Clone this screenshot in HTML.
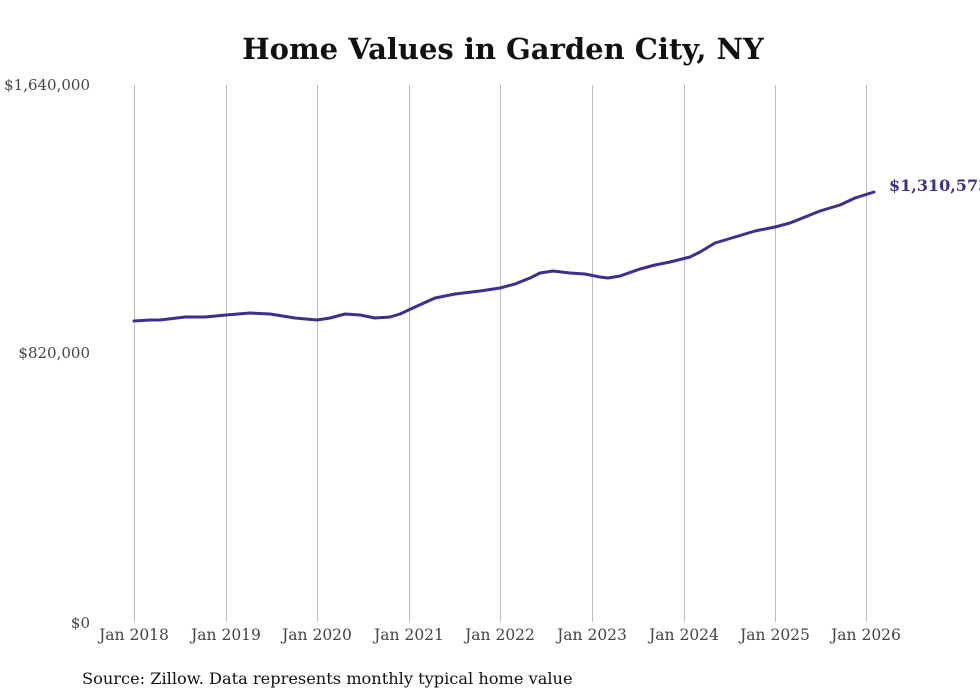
<!DOCTYPE html>
<html><head><meta charset="utf-8"><style>
html,body{margin:0;padding:0;background:#fff;width:980px;height:699px;overflow:hidden}
</style></head><body>
<svg width="980" height="699" viewBox="0 0 980 699" xmlns="http://www.w3.org/2000/svg" font-family="'DejaVu Serif','Liberation Serif',serif">
<text x="503" y="59" text-anchor="middle" font-size="29" font-weight="bold" fill="#111">Home Values in Garden City, NY</text>
<g stroke="#bdbdbd" stroke-width="1">
<line x1="134.5" y1="85" x2="134.5" y2="622"/>
<line x1="226.5" y1="85" x2="226.5" y2="622"/>
<line x1="317.5" y1="85" x2="317.5" y2="622"/>
<line x1="409.5" y1="85" x2="409.5" y2="622"/>
<line x1="500.5" y1="85" x2="500.5" y2="622"/>
<line x1="592.5" y1="85" x2="592.5" y2="622"/>
<line x1="684.5" y1="85" x2="684.5" y2="622"/>
<line x1="775.5" y1="85" x2="775.5" y2="622"/>
<line x1="866.5" y1="85" x2="866.5" y2="622"/>
</g>
<g font-size="15" fill="#444" text-anchor="end">
<text x="90" y="90">$1,640,000</text>
<text x="90" y="358">$820,000</text>
<text x="90" y="628">$0</text>
</g>
<g font-size="15.5" fill="#444" text-anchor="middle">
<text x="134" y="640">Jan 2018</text>
<text x="226" y="640">Jan 2019</text>
<text x="317" y="640">Jan 2020</text>
<text x="409" y="640">Jan 2021</text>
<text x="500" y="640">Jan 2022</text>
<text x="592" y="640">Jan 2023</text>
<text x="684" y="640">Jan 2024</text>
<text x="775" y="640">Jan 2025</text>
<text x="866" y="640">Jan 2026</text>
</g>
<polyline fill="none" stroke="#3b2f8f" stroke-width="3" stroke-linejoin="round" stroke-linecap="round" points="134,321 150,320 160,320 185,317 205,317 226,315 250,313 270,314 295,318 317,320 330,318 345,314 360,315 375,318 390,317 400,314 415,307 435,298 455,294 480,291 500,288 515,284 530,278 540,273 553,271 570,273 585,274 600,277 608,278 620,276 640,269 655,265 670,262 690,257 700,252 715,243 735,237 755,231 775,227 790,223 805,217 820,211 840,205 855,198 874,192"/>
<text x="889" y="191" font-size="16" font-weight="bold" fill="#3b2f8f">$1,310,573</text>
<text x="82" y="684" font-size="16.2" fill="#111">Source: Zillow. Data represents monthly typical home value</text>
</svg>
</body></html>
